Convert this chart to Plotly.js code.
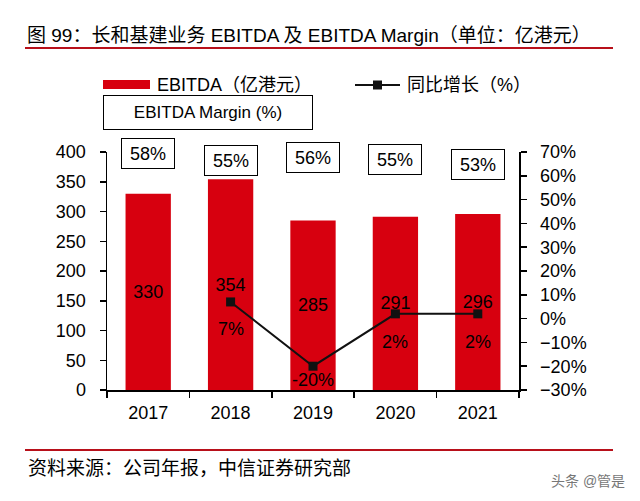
<!DOCTYPE html>
<html>
<head>
<meta charset="utf-8">
<script src="https://cdn.plot.ly/plotly-3.0.1.min.js"></script>
<style>html,body{margin:0;padding:0;background:#fff;}#chart{width:640px;height:501px;}</style>
</head>
<body>
<div id="chart"></div>
<script>
// ---- data ----
var years = ['2017', '2018', '2019', '2020', '2021'];
var ebitda = [330, 354, 285, 291, 296];            // 亿港元
var growth = [null, 7, -20, 2, 2];                  // 同比增长 %
var margin = [58, 55, 56, 55, 53];                  // EBITDA Margin %
var leftTicks = [0, 50, 100, 150, 200, 250, 300, 350, 400];

// ---- styling constants ----
var FONT = 'Liberation Sans, Arial, "Noto Sans CJK SC", sans-serif';
var RED = '#d7000f';
var LINE_RED = '#b8101a';
var marginShift = [-1, -8, -5, -7, -12];
var growthShift = [0, -27, -14, -28, -28];

function px(x) { return (x - 107) / 412; }
function py(y) { return (390 - y) / 238; }

var traces = [
  {
    type: 'bar', x: years, y: ebitda, name: 'EBITDA（亿港元）',
    marker: { color: RED }, width: 0.55,
    text: ebitda.map(String), textposition: 'inside', insidetextanchor: 'middle',
    textfont: { color: '#000', size: 18, family: FONT },
    constraintext: 'none', showlegend: false, hoverinfo: 'skip'
  },
  {
    type: 'scatter', mode: 'lines+markers', x: years, y: growth, yaxis: 'y2',
    name: '同比增长（%）', connectgaps: false,
    line: { color: '#111', width: 2 },
    marker: { symbol: 'square', size: 9, color: '#111' },
    showlegend: false, hoverinfo: 'skip'
  }
];

var annotations = [];
years.forEach(function (yr, i) {
  annotations.push({
    x: i, xref: 'x', y: 1, yref: 'paper', yanchor: 'middle', yshift: marginShift[i],
    text: margin[i] + '%', showarrow: false,
    font: { size: 18, color: '#000', family: FONT },
    bordercolor: '#000', borderwidth: 1, borderpad: 1, bgcolor: '#fff',
    width: 50, height: 27
  });
  if (growth[i] !== null) {
    annotations.push({
      x: i, xref: 'x', y: growth[i], yref: 'y2', yanchor: 'middle', yshift: growthShift[i],
      text: growth[i] + '%', showarrow: false,
      font: { size: 18, color: '#000', family: FONT }
    });
  }
});

// legend texts & boxes, title/source
annotations.push(
  { x: px(155), y: py(85), xref: 'paper', yref: 'paper', xanchor: 'left', yanchor: 'middle',
    text: 'EBITDA（亿港元）', showarrow: false, font: { size: 18, color: '#000', family: FONT } },
  { x: px(405), y: py(85), xref: 'paper', yref: 'paper', xanchor: 'left', yanchor: 'middle',
    text: '同比增长（%）', showarrow: false, font: { size: 18, color: '#000', family: FONT } },
  { x: px(207.5), y: py(113), xref: 'paper', yref: 'paper', xanchor: 'center', yanchor: 'middle',
    text: 'EBITDA Margin (%)', showarrow: false, font: { size: 17, color: '#000', family: FONT },
    bordercolor: '#000', borderwidth: 1, borderpad: 1, bgcolor: '#fff', width: 206, height: 31 },
  { x: px(26), y: py(468), xref: 'paper', yref: 'paper', xanchor: 'left', yanchor: 'middle',
    text: '资料来源：公司年报，中信证券研究部', showarrow: false, font: { size: 19, color: '#000', family: FONT } },
  { x: px(627), y: py(481), xref: 'paper', yref: 'paper', xanchor: 'right', yanchor: 'middle',
    text: '头条 @管是', showarrow: false, font: { size: 14, color: '#777', family: FONT } }
);

var shapes = [
  { type: 'line', xref: 'paper', yref: 'paper', x0: px(25), x1: px(613), y0: py(48), y1: py(48),
    line: { color: LINE_RED, width: 2 } },
  { type: 'line', xref: 'paper', yref: 'paper', x0: px(25), x1: px(613), y0: py(450), y1: py(450),
    line: { color: LINE_RED, width: 2 } },
  { type: 'rect', xref: 'paper', yref: 'paper', x0: px(103), x1: px(150), y0: py(89), y1: py(80),
    fillcolor: RED, line: { width: 0 } },
  { type: 'line', xref: 'paper', yref: 'paper', x0: px(355), x1: px(400), y0: py(85), y1: py(85),
    line: { color: '#111', width: 2 } },
  { type: 'rect', xref: 'paper', yref: 'paper', x0: px(373), x1: px(382), y0: py(89.5), y1: py(80.5),
    fillcolor: '#111', line: { width: 0 } }
];

var layout = {
  width: 640, height: 501,
  margin: { l: 107, r: 121, t: 152, b: 111, pad: 0 },
  paper_bgcolor: '#fff', plot_bgcolor: '#fff',
  font: { family: FONT, size: 18, color: '#000' },
  title: {
    text: '图 99：长和基建业务 EBITDA 及 EBITDA Margin（单位：亿港元）',
    font: { size: 19, color: '#000', family: FONT },
    xref: 'container', yref: 'container', x: 27 / 640, xanchor: 'left',
    y: 1 - 35 / 501, yanchor: 'middle'
  },
  showlegend: false,
  xaxis: {
    type: 'category', categoryorder: 'array', categoryarray: years, range: [-0.5, 4.5],
    showline: true, linecolor: '#000', linewidth: 1.5,
    ticks: 'outside', tickson: 'boundaries', ticklen: 6, tickcolor: '#000', tickwidth: 1.5,
    showgrid: false, zeroline: false, ticklabelstandoff: 6, tickangle: 0,
    tickfont: { size: 18, color: '#000', family: FONT }
  },
  yaxis: {
    range: [0, 400], tickvals: leftTicks, showline: true, linecolor: '#000', linewidth: 1.5,
    ticks: 'outside', ticklen: 6, tickcolor: '#000', tickwidth: 1.5,
    showgrid: false, zeroline: false, ticklabelstandoff: 10,
    tickfont: { size: 18, color: '#000', family: FONT }
  },
  yaxis2: {
    overlaying: 'y', side: 'right', range: [-30, 70], dtick: 10, tick0: -30, ticksuffix: '%',
    showline: true, linecolor: '#000', linewidth: 1.5,
    ticks: 'outside', ticklen: 6, tickcolor: '#000', tickwidth: 1.5,
    showgrid: false, zeroline: false, ticklabelstandoff: 10,
    tickfont: { size: 18, color: '#000', family: FONT }
  },
  annotations: annotations,
  shapes: shapes
};

Plotly.newPlot('chart', traces, layout, { staticPlot: true, displayModeBar: false });
</script>
</body>
</html>
